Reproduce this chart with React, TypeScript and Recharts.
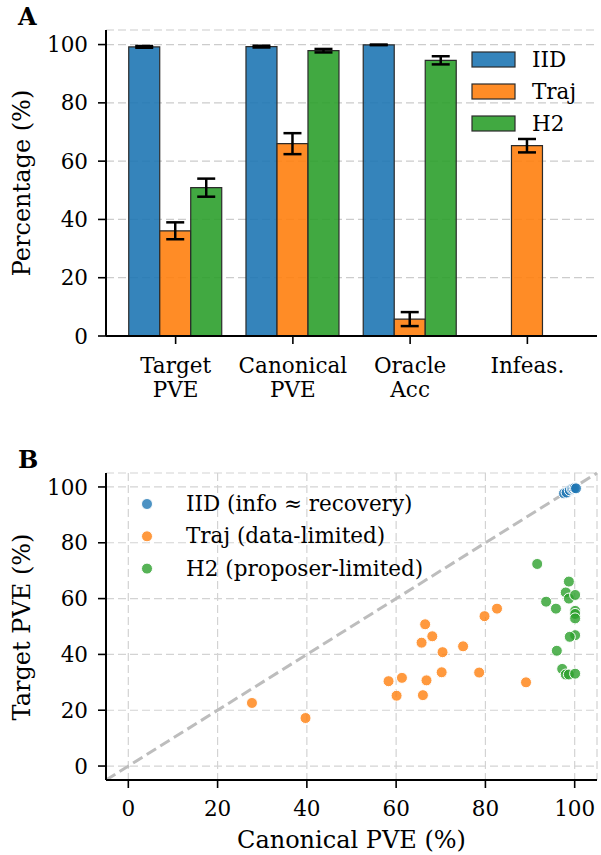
import React from "react"
import {
  BarChart,
  Bar,
  ErrorBar,
  ScatterChart,
  Scatter,
  XAxis,
  YAxis,
  CartesianGrid,
  ReferenceLine,
} from "recharts"

const FONT = "DejaVu Serif"

// Panel A: grouped bars with error bars
const categories = ["Target\nPVE", "Canonical\nPVE", "Oracle\nAcc", "Infeas."]
const iidMean = [99.2, 99.3, 99.9, 0]
const iidErr = [0.3, 0.3, 0.1, 0]
const trajMean = [36.1, 66.0, 5.8, 65.3]
const trajErr = [2.9, 3.6, 2.4, 2.3]
const h2Mean = [50.9, 97.9, 94.6, 0]
const h2Err = [3.1, 0.6, 1.4, 0]
const barTicks = [0, 20, 40, 60, 80, 100]

// Panel B: canonical vs target PVE per run
const iidCanonical = [97.6, 98.2, 98.9, 99.4, 99.7, 100.0, 100.3]
const iidTarget = [97.7, 98.0, 98.8, 99.3, 99.4, 99.6, 99.5]
const trajCanonical = [27.7, 39.7, 58.3, 60.1, 61.3, 65.7, 66.0, 66.5, 66.8, 68.1, 70.2, 70.4, 75.0, 78.6, 79.8, 82.6, 89.1]
const trajTarget = [22.6, 17.2, 30.4, 25.2, 31.6, 44.2, 25.4, 50.8, 30.7, 46.5, 33.6, 40.8, 42.9, 33.5, 53.7, 56.4, 30.0]
const h2Canonical = [91.6, 93.6, 95.8, 96.0, 97.2, 98.0, 98.7, 100.1, 98.7, 98.0, 98.7, 100.1, 100.1, 100.1, 100.1, 100.1, 98.9]
const h2Target = [72.4, 58.9, 56.4, 41.3, 34.8, 32.8, 32.8, 33.1, 66.1, 62.2, 60.0, 61.3, 55.6, 54.5, 52.9, 46.9, 46.3]
const scatterTicks = [0, 20, 40, 60, 80, 100]

const COLORS = { iid: "#1f77b4", traj: "#ff7f0e", h2: "#2ca02c" }

const barData = categories.map((c, i) => ({
  category: c,
  iid: iidMean[i],
  iidErr: iidErr[i],
  traj: trajMean[i],
  trajErr: trajErr[i],
  h2: h2Mean[i],
  h2Err: h2Err[i],
}))

const toPoints = (xs: number[], ys: number[]) => xs.map((x, i) => ({ x, y: ys[i] }))
const iidPoints = toPoints(iidCanonical, iidTarget)
const trajPoints = toPoints(trajCanonical, trajTarget)
const h2Points = toPoints(h2Canonical, h2Target)

const tickStyle = { fontFamily: FONT, fontSize: 21.5, fill: "#000" }
const axisLine = { stroke: "#000", strokeWidth: 2 }
const tickLine = { stroke: "#000", strokeWidth: 1.6 }

function CategoryTick(props: any) {
  const { x, y, payload } = props
  const lines = String(payload.value).split("\n")
  return (
    <text x={x} y={y} textAnchor="middle" {...tickStyle}>
      {lines.map((line, i) => (
        <tspan key={i} x={x} y={y + 23 + i * 23.5}>
          {line}
        </tspan>
      ))}
    </text>
  )
}

const dot = (color: string) => (p: any) => (
  <circle cx={p.cx} cy={p.cy} r={5.5} fill={color} fillOpacity={0.8} stroke="#fff" strokeWidth={1} />
)

const barLegend = [
  { name: "IID", color: COLORS.iid },
  { name: "Traj", color: COLORS.traj },
  { name: "H2", color: COLORS.h2 },
]
const scatterLegend = [
  { name: "IID (info \u2248 recovery)", color: COLORS.iid },
  { name: "Traj (data-limited)", color: COLORS.traj },
  { name: "H2 (proposer-limited)", color: COLORS.h2 },
]

export default function App() {
  return (
    <div style={{ position: "absolute", left: 0, top: 0, width: 601, height: 855, background: "#fff" }}>
      <div style={{ position: "absolute", left: 0, top: 0 }}>
        <BarChart
          width={601}
          height={430}
          data={barData}
          margin={{ top: 30, right: 4, bottom: 0, left: 0 }}
          barGap={0}
          barCategoryGap="10%"
        >
          <CartesianGrid vertical={false} stroke="#cccccc" strokeDasharray="8 4" strokeWidth={1.2} />
          <XAxis
            dataKey="category"
            interval={0}
            padding={{ left: 11, right: 11 }}
            height={94}
            axisLine={axisLine}
            tickLine={tickLine}
            tickSize={8}
            tickMargin={6}
            tick={<CategoryTick />}
          />
          <YAxis
            domain={[0, 105]}
            ticks={barTicks}
            width={106}
            axisLine={axisLine}
            tickLine={tickLine}
            tickSize={8}
            tickMargin={10}
            tick={tickStyle}
          />
          <Bar dataKey="iid" fill={COLORS.iid} fillOpacity={0.9} stroke="#2b2b2b" strokeWidth={1.2} isAnimationActive={false}>
            <ErrorBar dataKey="iidErr" width={9} stroke="#000" strokeWidth={2.5} />
          </Bar>
          <Bar dataKey="traj" fill={COLORS.traj} fillOpacity={0.9} stroke="#2b2b2b" strokeWidth={1.2} isAnimationActive={false}>
            <ErrorBar dataKey="trajErr" width={9} stroke="#000" strokeWidth={2.5} />
          </Bar>
          <Bar dataKey="h2" fill={COLORS.h2} fillOpacity={0.9} stroke="#2b2b2b" strokeWidth={1.2} isAnimationActive={false}>
            <ErrorBar dataKey="h2Err" width={9} stroke="#000" strokeWidth={2.5} />
          </Bar>
        </BarChart>
      </div>

      <div style={{ position: "absolute", left: 0, top: 430 }}>
        <ScatterChart width={601} height={425} margin={{ top: 43, right: 4, bottom: 5, left: 0 }}>
          <CartesianGrid stroke="#d3d3d3" strokeDasharray="8 4" strokeWidth={1.2} />
          <XAxis
            type="number"
            dataKey="x"
            domain={[-5, 105]}
            ticks={scatterTicks}
            height={70}
            axisLine={axisLine}
            tickLine={tickLine}
            tickSize={8}
            tickMargin={13}
            tick={tickStyle}
          />
          <YAxis
            type="number"
            dataKey="y"
            domain={[-5, 105]}
            ticks={scatterTicks}
            width={106}
            axisLine={axisLine}
            tickLine={tickLine}
            tickSize={8}
            tickMargin={10}
            tick={tickStyle}
          />
          <ReferenceLine
            segment={[{ x: -5, y: -5 }, { x: 105, y: 105 }]}
            stroke="#bdbdbd"
            strokeWidth={3}
            strokeDasharray="11 5"
          />
          <Scatter data={iidPoints} shape={dot(COLORS.iid)} isAnimationActive={false} />
          <Scatter data={trajPoints} shape={dot(COLORS.traj)} isAnimationActive={false} />
          <Scatter data={h2Points} shape={dot(COLORS.h2)} isAnimationActive={false} />
        </ScatterChart>
      </div>

      <svg
        width={601}
        height={855}
        style={{ position: "absolute", left: 0, top: 0, pointerEvents: "none" }}
        fontFamily={FONT}
      >
        <text x={18} y={25} fontSize={24} fontWeight="bold">A</text>
        <text x={18} y={468} fontSize={24} fontWeight="bold">B</text>
        <text transform="translate(30,183) rotate(-90)" textAnchor="middle" fontSize={24}>Percentage (%)</text>
        <text transform="translate(30,627) rotate(-90)" textAnchor="middle" fontSize={24}>Target PVE (%)</text>
        <text x={351.5} y={848} textAnchor="middle" fontSize={24}>Canonical PVE (%)</text>

        {barLegend.map((item, i) => (
          <g key={item.name}>
            <rect x={472} y={52 + i * 32} width={43} height={15} fill={item.color} fillOpacity={0.9} stroke="#2b2b2b" strokeWidth={1.2} />
            <text x={532} y={67 + i * 32} fontSize={21.5}>{item.name}</text>
          </g>
        ))}

        {scatterLegend.map((item, i) => (
          <g key={item.name}>
            <circle cx={147} cy={504 + i * 32.3} r={5.5} fill={item.color} fillOpacity={0.8} stroke="#fff" strokeWidth={1} />
            <text x={186} y={511 + i * 32.3} fontSize={21.5}>{item.name}</text>
          </g>
        ))}
      </svg>
    </div>
  )
}
